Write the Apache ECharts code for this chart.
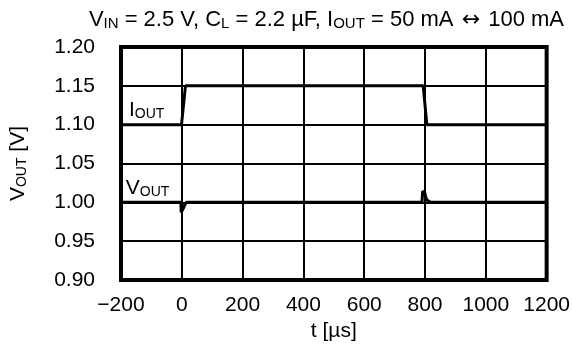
<!DOCTYPE html>
<html>
<head>
<meta charset="utf-8">
<script src="https://cdn.jsdelivr.net/npm/echarts@6/dist/echarts.min.js"></script>
<style>
  html, body { margin: 0; padding: 0; background: #fff; }
  #chart { width: 573px; height: 358px; }
</style>
</head>
<body>
<div id="chart"></div>
<script>
// Load-transient waveforms: output current step (scaled) and output voltage response
const xTicks = [-200, 0, 200, 400, 600, 800, 1000, 1200];
const yTicks = [0.90, 0.95, 1.00, 1.05, 1.10, 1.15, 1.20];

const tIout = [-200, -1, 12, 794, 806, 1200];
const iout  = [1.10, 1.10, 1.15, 1.15, 1.10, 1.10];

const tVout = [-200, -3, -2, 3, 6, 10, 15, 30, 790, 792, 799, 802, 806, 811, 818, 1200];
const vout  = [1.000, 1.000, 0.987, 0.988, 0.993, 0.997, 1.000, 1.000, 1.000, 1.014, 1.013, 1.007, 1.003, 1.001, 1.000, 1.000];

// Trace labels: [t, value] anchor of each label's lower-left corner
const ioutLabelAt = [-174, 1.1047];
const voutLabelAt = [-184, 1.0043];

const FONT = 'Liberation Sans, Arial, sans-serif';
const FS = 21;

function pairs(xs, ys) { return xs.map((x, i) => [x, ys[i]]); }
function minusFmt(v) { return v < 0 ? '\u2212' + Math.abs(v) : String(v); }

const big = { fontSize: FS, fontFamily: FONT, fontWeight: 'normal', color: '#000', verticalAlign: 'bottom', lineHeight: 24 };
const sub = { fontSize: 14, fontFamily: FONT, fontWeight: 'normal', color: '#000', verticalAlign: 'bottom', lineHeight: 24 };
const richSet = { b: big, s: sub };

const titleRich = {
  b: Object.assign({}, big, { fontSize: 22 }),
  s: Object.assign({}, sub, { fontSize: 15 }),
  a: Object.assign({}, big, { fontSize: 22, fontFamily: 'DejaVu Sans', padding: [0, 2, 0, 2] })
};

function traceLabel(coord, text) {
  return {
    symbol: 'circle', symbolSize: 1,
    itemStyle: { color: 'rgba(0,0,0,0)' },
    data: [{
      coord: coord,
      label: {
        show: true, position: 'inside', align: 'left', verticalAlign: 'bottom',
        formatter: text, rich: richSet
      }
    }]
  };
}

const chart = echarts.init(document.getElementById('chart'), null, { renderer: 'canvas' });

chart.setOption({
  animation: false,
  backgroundColor: '#fff',
  title: {
    text: '{b|V}{s|IN}{b| = 2.5 V, C}{s|L}{b| = 2.2 \u00b5F, I}{s|OUT}{b| = 50 mA }{a|\u2194}{b| 100 mA}',
    right: 4,
    top: 2,
    textStyle: { rich: titleRich }
  },
  grid: {
    left: 117, top: 47, right: 26, bottom: 78,
    show: true, borderColor: '#000', borderWidth: 4, backgroundColor: 'transparent'
  },
  xAxis: {
    type: 'value',
    min: xTicks[0], max: xTicks[xTicks.length - 1], interval: 200,
    axisLine: { show: false }, axisTick: { show: false },
    splitLine: { show: true, lineStyle: { color: '#000', width: 2 } },
    axisLabel: { color: '#000', fontSize: FS, fontFamily: FONT, margin: 15, formatter: minusFmt },
    name: 't [\u00b5s]', nameLocation: 'middle', nameGap: 39,
    nameTextStyle: { color: '#000', fontSize: FS, fontFamily: FONT }
  },
  yAxis: {
    type: 'value',
    min: yTicks[0], max: yTicks[yTicks.length - 1], interval: 0.05,
    axisLine: { show: false }, axisTick: { show: false },
    splitLine: { show: true, lineStyle: { color: '#000', width: 2 } },
    axisLabel: { color: '#000', fontSize: FS, fontFamily: FONT, margin: 26, formatter: v => v.toFixed(2) },
    name: '{b|V}{s|OUT}{b| [V]}', nameLocation: 'middle', nameGap: 92, nameRotate: 90,
    nameTextStyle: { rich: richSet }
  },
  series: [
    {
      type: 'line', data: pairs(tIout, iout), symbol: 'none',
      lineStyle: { color: '#000', width: 3 }, z: 5,
      markPoint: traceLabel(ioutLabelAt, '{b|I}{s|OUT}')
    },
    {
      type: 'line', data: pairs(tVout, vout), symbol: 'none',
      lineStyle: { color: '#000', width: 3 }, z: 5,
      markPoint: traceLabel(voutLabelAt, '{b|V}{s|OUT}')
    }
  ]
});
</script>
</body>
</html>
